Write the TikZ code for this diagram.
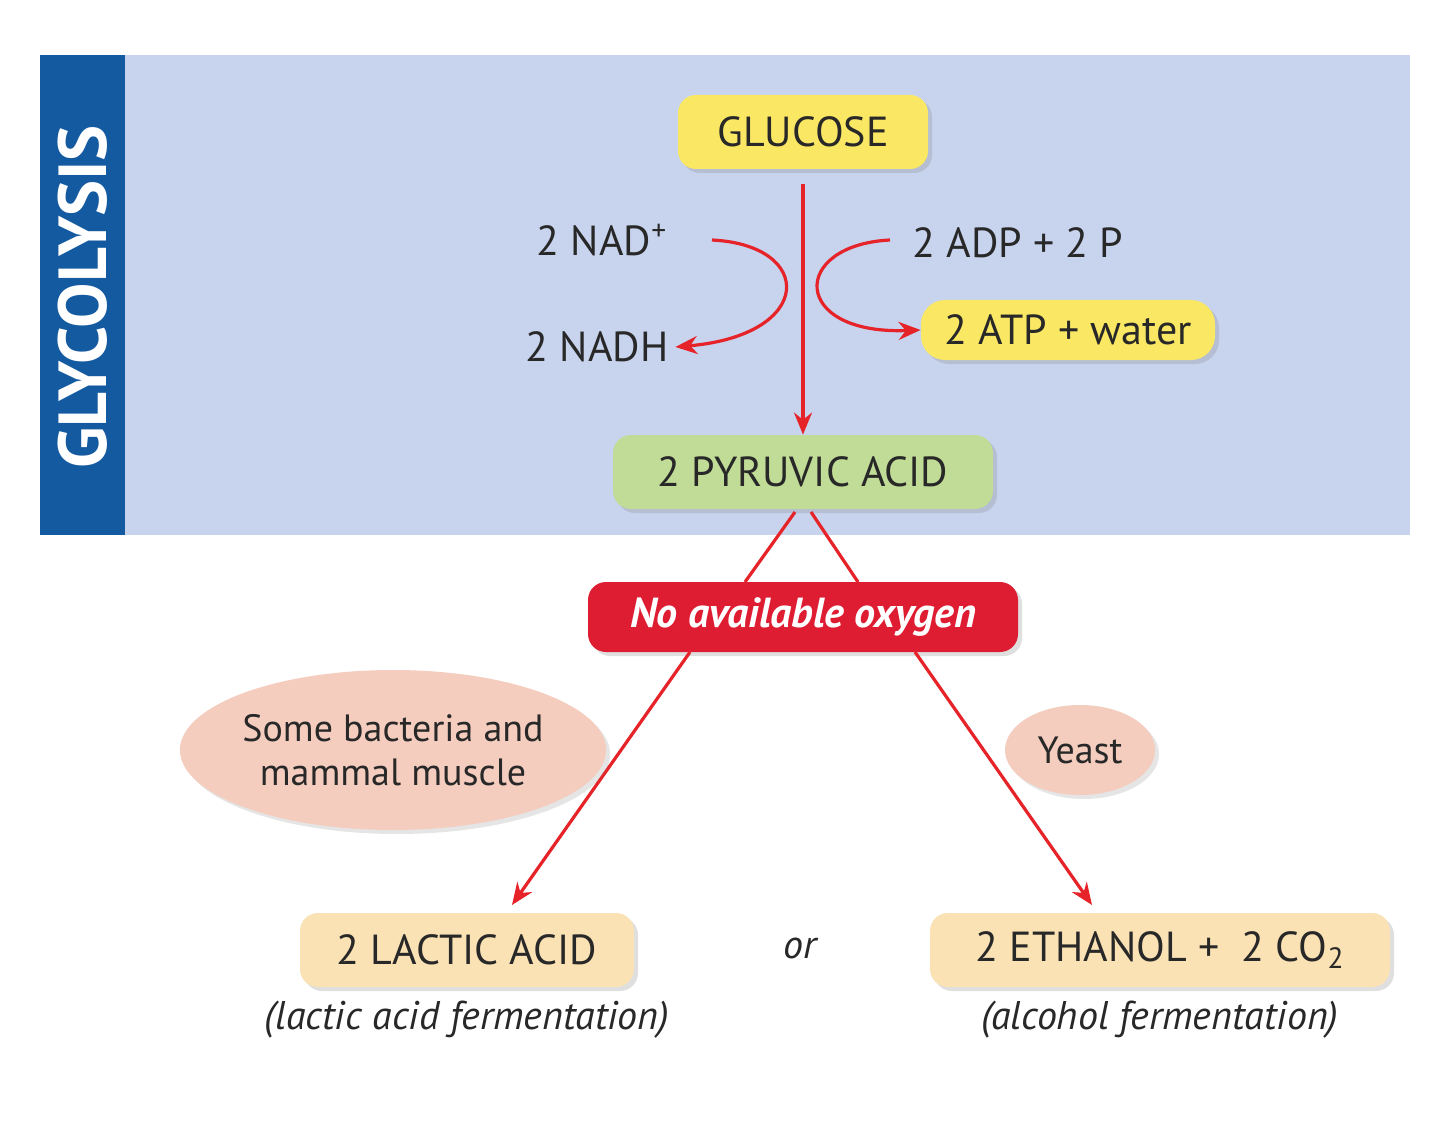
\documentclass[tikz,border=0pt]{standalone}
\usepackage{fontspec}
\setmainfont{PT Sans}
\usetikzlibrary{shapes.geometric,arrows.meta,shadows}
\definecolor{bgblue}{RGB}{200,212,238}
\definecolor{band}{RGB}{20,90,160}
\definecolor{glu}{RGB}{250,232,100}
\definecolor{pyr}{RGB}{192,220,150}
\definecolor{redb}{RGB}{222,28,50}
\definecolor{pinkb}{RGB}{244,205,190}
\definecolor{prod}{RGB}{250,226,180}
\definecolor{txt}{RGB}{40,40,40}
\definecolor{arr}{RGB}{230,35,40}
\begin{document}
\begin{tikzpicture}[x=0.5pt,y=-0.5pt,
  box/.style={rounded corners=9pt,inner sep=0pt,text=txt,font=\fontsize{21}{24}\selectfont,drop shadow={shadow xshift=2pt,shadow yshift=-2pt,opacity=0.25}},
  lbl/.style={text=txt,font=\fontsize{21}{24}\selectfont},
  ital/.style={text=txt,font=\fontsize{20}{24}\selectfont\itshape},
  ra/.style={draw=arr,line width=1.6pt,-{Stealth[length=11pt,width=9pt]}},
  ell/.style={ellipse,fill=pinkb,text=txt,font=\fontsize{19}{22}\selectfont,align=center,inner sep=0pt,drop shadow={shadow xshift=2pt,shadow yshift=-2pt,opacity=0.2}}]
\useasboundingbox (0,0) rectangle (1440,1134);
\fill[white] (0,0) rectangle (1440,1134);
\fill[bgblue] (40,55) rectangle (1410,535);
\fill[band] (40,55) rectangle (125,535);
\node[rotate=90,text=white,font=\fontsize{34}{38}\selectfont\bfseries] (gly) at (83,297) {GLYCOLYSIS};
\node[box,fill=glu,minimum width=125pt,minimum height=37pt] (glu) at (803,132) {GLUCOSE};
\node[box,fill=pyr,minimum width=190pt,minimum height=37pt] (pyr) at (803,472) {2 PYRUVIC ACID};
\node[lbl] (nad) at (602,240) {2 NAD\textsuperscript{+}};
\node[lbl] (nadh) at (597,347) {2 NADH};
\node[lbl] (adp) at (1018,243) {2 ADP + 2 P};
\node[box,fill=glu,minimum width=147pt,minimum height=30pt,rounded corners=12pt] (atp) at (1068,330) {2 ATP + water};
\draw[ra] (glu.south) ++(0,15) -- (pyr.north);
\coordinate (c1) at (712,240);
\coordinate (c2) at (890,240);
\draw[ra] (c1) .. controls (815,245) and (815,335) .. (nadh.east);
\draw[ra] (c2) .. controls (790,245) and (790,335) .. (atp.west);
\node[box,fill=redb,text=white,font=\fontsize{21}{24}\selectfont\bfseries\itshape,minimum width=215pt,minimum height=35pt] (nox) at (803,617) {No available oxygen};
\node[box,fill=prod,minimum width=167pt,minimum height=37pt] (lac) at (467,950) {2 LACTIC ACID};
\node[box,fill=prod,minimum width=230pt,minimum height=37pt] (eth) at (1160,950) {2 ETHANOL +\ \ 2 CO\textsubscript{2}};
\coordinate (p1) at (795,512);
\coordinate (p2) at (811,512);
\coordinate (n1) at (690,652);
\coordinate (n2) at (915,652);
\draw[draw=arr,line width=1.6pt] (p1) -- (745,582);
\draw[draw=arr,line width=1.6pt] (p2) -- (858,582);
\draw[ra] (n1) -- (512,905);
\draw[ra] (n2) -- (1092,905);
\node[ell,minimum width=205pt,minimum height=80pt] (bac) at (393,750) {Some bacteria and\\mammal muscle};
\node[ell,minimum width=75pt,minimum height=45pt] (yst) at (1080,750) {Yeast};
\node[ital] (li) at (467,1020) {(lactic acid fermentation)};
\node[ital] (ai) at (1160,1020) {(alcohol fermentation)};
\node[ital] (or) at (800,948) {or};
\end{tikzpicture}
\end{document}
